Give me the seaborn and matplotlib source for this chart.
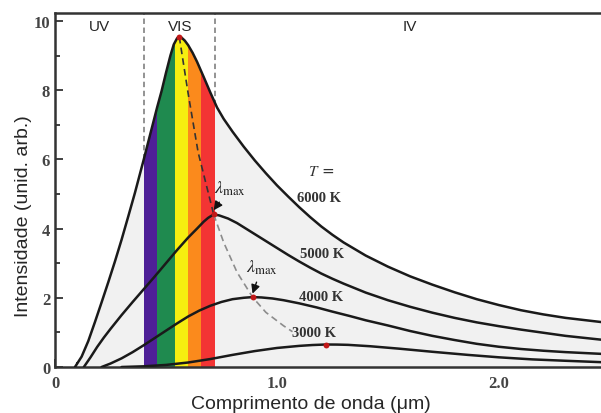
import numpy as np
import pandas as pd
import matplotlib
matplotlib.use("Agg")
import matplotlib.pyplot as plt
import seaborn as sns

# curves (wavelength in um, intensity arb.)
x6000 = [0.09, 0.12, 0.15, 0.18, 0.21, 0.24, 0.27, 0.30, 0.33, 0.36, 0.40, 0.43, 0.46, 0.48, 0.50, 0.52,
         0.535, 0.55, 0.56, 0.57, 0.585, 0.60, 0.62, 0.64, 0.67, 0.70, 0.73, 0.76, 0.80, 0.85, 0.90, 0.95,
         1.00, 1.05, 1.10, 1.15, 1.20, 1.25, 1.30, 1.40, 1.50, 1.60, 1.70, 1.80, 1.90, 2.00, 2.10, 2.20,
         2.30, 2.46]
y6000 = [0.0, 0.3, 0.75, 1.3, 1.87, 2.45, 3.05, 3.68, 4.35, 5.03, 6.0, 6.75, 7.5, 7.97, 8.5, 9.0,
         9.32, 9.5, 9.54, 9.52, 9.43, 9.3, 9.08, 8.82, 8.38, 7.93, 7.5, 7.17, 6.8, 6.37, 5.97, 5.6,
         5.25, 4.93, 4.62, 4.33, 4.06, 3.82, 3.6, 3.22, 2.9, 2.62, 2.38, 2.16, 1.96, 1.79, 1.64, 1.52,
         1.42, 1.3]

x5000 = [0.13, 0.16, 0.19, 0.22, 0.25, 0.30, 0.35, 0.40, 0.45, 0.50, 0.55, 0.60, 0.64, 0.67, 0.69, 0.715,
         0.74, 0.78, 0.82, 0.86, 0.90, 0.95, 1.00, 1.05, 1.10, 1.15, 1.20, 1.25, 1.30, 1.40, 1.50, 1.60,
         1.70, 1.80, 1.90, 2.00, 2.10, 2.20, 2.30, 2.46]
y5000 = [0.0, 0.28, 0.58, 0.85, 1.1, 1.5, 1.88, 2.25, 2.62, 3.0, 3.38, 3.74, 4.0, 4.2, 4.31, 4.41,
         4.38, 4.29, 4.16, 4.0, 3.84, 3.64, 3.44, 3.24, 3.05, 2.87, 2.7, 2.55, 2.41, 2.15, 1.93, 1.74,
         1.57, 1.42, 1.29, 1.18, 1.08, 0.99, 0.9, 0.79]

x4000 = [0.21, 0.25, 0.30, 0.35, 0.40, 0.45, 0.50, 0.55, 0.60, 0.65, 0.70, 0.75, 0.80, 0.85, 0.89, 0.93,
         0.98, 1.03, 1.10, 1.18, 1.25, 1.33, 1.40, 1.50, 1.60, 1.70, 1.80, 1.90, 2.00, 2.10, 2.20, 2.30, 2.46]
y4000 = [0.0, 0.1, 0.25, 0.43, 0.63, 0.84, 1.05, 1.26, 1.46, 1.63, 1.77, 1.88, 1.96, 2.0, 2.02, 2.01,
         1.98, 1.93, 1.84, 1.72, 1.6, 1.47, 1.35, 1.2, 1.04, 0.9, 0.78, 0.67, 0.585, 0.52, 0.47, 0.43, 0.38]

x3000 = [0.30, 0.40, 0.50, 0.60, 0.70, 0.80, 0.90, 1.00, 1.10, 1.16, 1.22, 1.27, 1.32, 1.42, 1.55, 1.70,
         1.86, 2.00, 2.15, 2.30, 2.46]
y3000 = [0.0, 0.02, 0.06, 0.13, 0.23, 0.35, 0.46, 0.55, 0.61, 0.635, 0.65, 0.648, 0.64, 0.6, 0.53, 0.44,
         0.35, 0.28, 0.22, 0.18, 0.14]

temps = ["6000 K", "5000 K", "4000 K", "3000 K"]
peak_x = [0.56, 0.715, 0.89, 1.22]
peak_y = [9.54, 4.41, 2.02, 0.65]

# Wien locus (dashed)
locus_x = [0.56, 0.60, 0.645, 0.715, 0.76, 0.82, 0.89, 0.95, 1.03, 1.07]
locus_y = [9.54, 7.9, 6.2, 4.41, 3.6, 2.74, 2.02, 1.58, 1.19, 1.02]

# visible bands
band_edges = [0.40, 0.46, 0.54, 0.60, 0.66, 0.72]
band_colors = ["#4e1f97", "#1f8a4f", "#f6ee10", "#fb8a1c", "#f33434"]

df = pd.concat([
    pd.DataFrame({"lam": x6000, "I": y6000, "T": "6000 K"}),
    pd.DataFrame({"lam": x5000, "I": y5000, "T": "5000 K"}),
    pd.DataFrame({"lam": x4000, "I": y4000, "T": "4000 K"}),
    pd.DataFrame({"lam": x3000, "I": y3000, "T": "3000 K"}),
])

sns.set_style("ticks")
plt.rcParams["mathtext.fontset"] = "stix"
fig = plt.figure(figsize=(6.01, 4.14), dpi=100)
ax = fig.add_axes([55 / 601, 46 / 414, 546 / 601, 354 / 414])

# dashed limits of the visible range, hidden under the gray area
for xv in [band_edges[0], band_edges[-1]]:
    ax.axvline(xv, color="#8a8a8a", ls=(0, (3, 2)), lw=1.3, zorder=0.5)

# gray area under the hottest curve
fill = ax.fill_between(x6000, y6000, 0, color="#f1f1f1", zorder=1, lw=0)
clip = fill.get_paths()[0]

for i, c in enumerate(band_colors):
    span = ax.axvspan(band_edges[i], band_edges[i + 1], color=c, lw=0, zorder=2)
    span.set_clip_path(clip, ax.transData)

sns.lineplot(data=df, x="lam", y="I", units="T", estimator=None, sort=False,
             color="#1a1a1a", lw=1.8, ax=ax, zorder=3, legend=False)

ax.plot(locus_x[:4], locus_y[:4], color="#333333", ls=(0, (4, 2.5)), lw=1.2, zorder=3.5)
ax.plot(locus_x[3:], locus_y[3:], color="#8c8c8c", ls=(0, (4, 2.5)), lw=1.2, zorder=3.5)
ax.scatter(peak_x, peak_y, s=18, color="#c01818", zorder=4, lw=0)

serif = "Liberation Serif"
ax.annotate(r"$\lambda_{\rm max}$", xy=(peak_x[1], peak_y[1] + 0.12), xytext=(0.715, 5.05),
            fontsize=13, color="#222", arrowprops=dict(arrowstyle="-|>", color="#111", lw=1, shrinkB=0),
            zorder=5)
ax.annotate(r"$\lambda_{\rm max}$", xy=(peak_x[2], peak_y[2] + 0.1), xytext=(0.86, 2.75),
            fontsize=13, color="#222", arrowprops=dict(arrowstyle="-|>", color="#111", lw=1, shrinkB=0),
            zorder=5)

ax.text(1.14, 5.55, "$T$ =", fontsize=11, color="#333", zorder=5)
label_pos = [(1.09, 4.9), (1.105, 3.28), (1.10, 2.05), (1.07, 1.0)]
for t, (lx, ly) in zip(temps, label_pos):
    ax.text(lx, ly, t, fontsize=10.5, family=serif, fontweight="bold", color="#333",
            va="center", zorder=5)

ax.text(0.20, 9.85, "UV", fontsize=11, family="Liberation Sans", ha="center", va="center")
ax.text(0.565, 9.85, "VIS", fontsize=11, family="Liberation Sans", ha="center", va="center")
ax.text(1.60, 9.85, "IV", fontsize=11, family="Liberation Sans", ha="center", va="center")

ax.set_xlim(0, 2.46)
ax.set_ylim(0, 10.23)
ax.set_xticks([0, 0.5, 1.0, 1.5, 2.0])
ax.set_xticklabels(["0", "", "1.0", "", "2.0"])
ax.set_xticks(np.arange(0, 2.5, 0.1), minor=True)
ax.set_yticks([0, 2, 4, 6, 8, 10])
ax.set_yticks([1, 3, 5, 7, 9], minor=True)
ax.tick_params(which="both", direction="in", color="#333", width=1.3)
ax.tick_params(which="major", length=6, labelsize=12)
ax.tick_params(which="minor", length=3.5)
ax.tick_params(axis="x", pad=6)
for lab in ax.get_xticklabels() + ax.get_yticklabels():
    lab.set_family(serif)
    lab.set_fontweight("bold")
    lab.set_color("#444")

for s in ["left", "bottom", "top"]:
    ax.spines[s].set_linewidth(1.8)
    ax.spines[s].set_color("#333")
ax.spines["right"].set_visible(False)

ax.set_xlabel("Comprimento de onda (μm)", fontsize=14, family="Liberation Sans")
ax.set_ylabel("Intensidade (unid. arb.)", fontsize=14, family="Liberation Sans")
ax.xaxis.set_label_coords(0.469, -0.08)
ax.yaxis.set_label_coords(-0.042, 0.43)

fig.savefig("out.png", dpi=100)
